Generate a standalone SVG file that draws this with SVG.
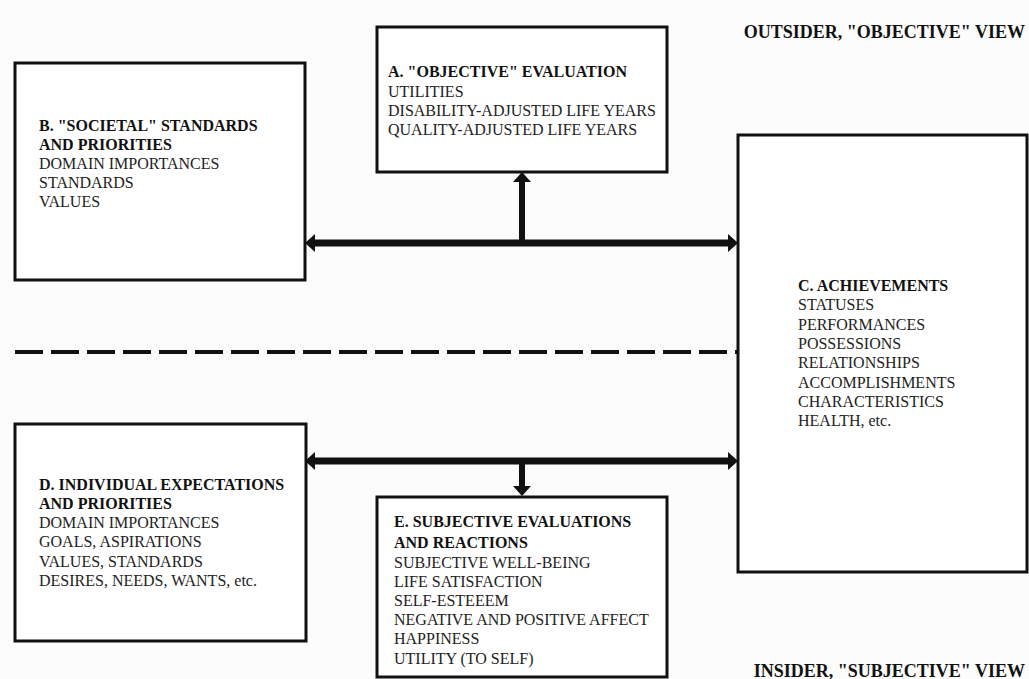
<svg xmlns="http://www.w3.org/2000/svg" width="1029" height="679" viewBox="0 0 1029 679">
<style>
.box{fill:#ffffff;stroke:#111;stroke-width:3}
text{font-family:"Liberation Serif","Times New Roman",serif;font-size:16px;fill:#222}
.t{font-weight:bold;fill:#111}
.view{font-weight:bold;font-size:18px;fill:#111}
.conn{stroke:#111;stroke-width:7;fill:none}
.stem{stroke:#111;stroke-width:6;fill:none}
.dash{stroke:#111;stroke-width:4;stroke-dasharray:28 8;fill:none}
</style>
<defs>
<marker id="ah" markerUnits="userSpaceOnUse" viewBox="0 -9 10 18" markerWidth="10" markerHeight="18" refX="0" refY="0" orient="auto-start-reverse">
<path d="M0,-9 L10,0 L0,9 z" fill="#111"/>
</marker>
</defs>
<rect width="1029" height="679" fill="#fcfcfc"/>

<g id="connectors">
<line class="conn" x1="315" y1="243" x2="728" y2="243" marker-start="url(#ah)" marker-end="url(#ah)"/>
<line class="stem" x1="522" y1="243" x2="522" y2="182" marker-end="url(#ah)"/>
<line class="conn" x1="315" y1="461" x2="728" y2="461" marker-start="url(#ah)" marker-end="url(#ah)"/>
<line class="stem" x1="522" y1="461" x2="522" y2="486" marker-end="url(#ah)"/>
<line class="dash" x1="15" y1="352" x2="738" y2="352"/>
</g>

<g id="nodeA">
<rect class="box" x="377" y="27" width="290" height="145"/>
<text x="388" y="77" class="t">A. "OBJECTIVE" EVALUATION</text>
<text x="388" y="97">UTILITIES</text>
<text x="388" y="116">DISABILITY-ADJUSTED LIFE YEARS</text>
<text x="388" y="135">QUALITY-ADJUSTED LIFE YEARS</text>
</g>

<g id="nodeB">
<rect class="box" x="15" y="63" width="290" height="217"/>
<text x="39" y="131" class="t">B. "SOCIETAL" STANDARDS</text>
<text x="39" y="150" class="t">AND PRIORITIES</text>
<text x="39" y="169">DOMAIN IMPORTANCES</text>
<text x="39" y="188">STANDARDS</text>
<text x="39" y="207">VALUES</text>
</g>

<g id="nodeC">
<rect class="box" x="738" y="135" width="289" height="437"/>
<text x="798" y="291" class="t">C. ACHIEVEMENTS</text>
<text x="798" y="310">STATUSES</text>
<text x="798" y="330">PERFORMANCES</text>
<text x="798" y="349">POSSESSIONS</text>
<text x="798" y="368">RELATIONSHIPS</text>
<text x="798" y="388">ACCOMPLISHMENTS</text>
<text x="798" y="407">CHARACTERISTICS</text>
<text x="798" y="426">HEALTH, etc.</text>
</g>

<g id="nodeD">
<rect class="box" x="15" y="424" width="291" height="217"/>
<text x="39" y="490" class="t">D. INDIVIDUAL EXPECTATIONS</text>
<text x="39" y="509" class="t">AND PRIORITIES</text>
<text x="39" y="528">DOMAIN IMPORTANCES</text>
<text x="39" y="547">GOALS, ASPIRATIONS</text>
<text x="39" y="567">VALUES, STANDARDS</text>
<text x="39" y="586">DESIRES, NEEDS, WANTS, etc.</text>
</g>

<g id="nodeE">
<rect class="box" x="377" y="497" width="290" height="180"/>
<text x="394" y="527" class="t">E. SUBJECTIVE EVALUATIONS</text>
<text x="394" y="548" class="t">AND REACTIONS</text>
<text x="394" y="568">SUBJECTIVE WELL-BEING</text>
<text x="394" y="587">LIFE SATISFACTION</text>
<text x="394" y="606">SELF-ESTEEEM</text>
<text x="394" y="625">NEGATIVE AND POSITIVE AFFECT</text>
<text x="394" y="644">HAPPINESS</text>
<text x="394" y="664">UTILITY (TO SELF)</text>
</g>

<g id="labels">
<text x="1025" y="38" class="view" text-anchor="end">OUTSIDER, "OBJECTIVE" VIEW</text>
<text x="1025" y="677" class="view" text-anchor="end">INSIDER, "SUBJECTIVE" VIEW</text>
</g>
</svg>
